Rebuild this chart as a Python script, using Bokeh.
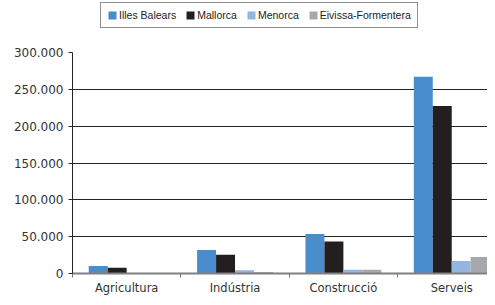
import numpy as np
from bokeh.plotting import figure
from bokeh.layouts import column
from bokeh.models import (Range1d, FixedTicker, Legend, LegendItem, ColumnDataSource)
from bokeh.embed import file_html
from bokeh.resources import INLINE

# ---- data ----
categories = ["Agricultura", "Indústria", "Construcció", "Serveis"]
series_names = ["Illes Balears", "Mallorca", "Menorca", "Eivissa-Formentera"]
illes_balears = [10300, 32000, 53500, 267000]
mallorca = [7800, 25500, 43500, 227500]
menorca = [600, 4300, 5000, 17000]
eivissa_formentera = [400, 2200, 5000, 22500]
series_values = [illes_balears, mallorca, menorca, eivissa_formentera]
colors = ["#4A8DCD", "#231F20", "#92B5E1", "#A7A8AB"]
y_ticks = [0, 50000, 100000, 150000, 200000, 250000, 300000]
y_tick_labels = ["0", "50.000", "100.000", "150.000", "200.000", "250.000", "300.000"]

n_cat = len(categories)
centers = np.arange(n_cat) + 0.5
bar_w = 0.175
offsets = (np.arange(len(series_names)) - (len(series_names) - 1) / 2) * bar_w

# ---- main chart ----
chart = figure(width=487, height=267, output_backend="svg", toolbar_location=None,
               x_range=Range1d(0, 3.83), y_range=Range1d(0, 300000),
               min_border_left=72, min_border_right=0, min_border_top=22,
               min_border_bottom=18)
chart.outline_line_color = None
chart.background_fill_color = "white"
chart.border_fill_color = "white"

# ---- legend strip (hidden copies of the bars; only the legend shows) ----
leg = figure(width=487, height=30, output_backend="svg", toolbar_location=None,
             x_range=Range1d(0, 3.83), y_range=Range1d(-2, -1),
             min_border_left=0, min_border_right=0, min_border_top=0,
             min_border_bottom=0)
leg.axis.visible = False
leg.grid.visible = False
leg.outline_line_color = None
leg.background_fill_color = "white"
leg.border_fill_color = "white"

items = []
for name, vals, col, off in zip(series_names, series_values, colors, offsets):
    src = ColumnDataSource(dict(x=centers + off, top=vals))
    chart.vbar(x="x", top="top", width=bar_w, bottom=0, source=src,
               fill_color=col, line_color=None)
    r = leg.vbar(x="x", top="top", width=bar_w, bottom=0, source=src,
                 fill_color=col, line_color=None)
    r.visible = False
    items.append(LegendItem(label=name, renderers=[r]))

# y axis
chart.yaxis.ticker = FixedTicker(ticks=y_ticks)
chart.yaxis.major_label_overrides = dict(zip(y_ticks, y_tick_labels))
chart.yaxis.major_tick_out = 4
chart.yaxis.major_tick_in = 0
chart.yaxis.minor_tick_line_color = None
chart.yaxis.axis_line_color = "#222222"
chart.yaxis.major_tick_line_color = "#222222"
chart.yaxis.major_label_standoff = 5
chart.yaxis.major_label_text_font = "DejaVu Sans"
chart.yaxis.major_label_text_font_size = "12px"
chart.yaxis.major_label_text_color = "#333333"

# x axis
chart.xaxis.ticker = FixedTicker(ticks=list(centers), minor_ticks=list(range(n_cat + 1)))
chart.xaxis.major_label_overrides = {float(c): lab for c, lab in zip(centers, categories)}
chart.xaxis.major_tick_line_color = None
chart.xaxis.major_tick_out = 0
chart.xaxis.major_tick_in = 0
chart.xaxis.minor_tick_out = 4
chart.xaxis.minor_tick_in = 0
chart.xaxis.minor_tick_line_color = "#777777"
chart.xaxis.axis_line_color = "#808080"
chart.xaxis.axis_line_width = 2
chart.xaxis.major_label_standoff = 3
chart.xaxis.major_label_text_font = "DejaVu Sans"
chart.xaxis.major_label_text_font_size = "11.5px"
chart.xaxis.major_label_text_color = "#333333"

# grid
chart.xgrid.grid_line_color = None
chart.ygrid.ticker = FixedTicker(ticks=y_ticks[1:])
chart.ygrid.grid_line_color = "#222222"
chart.ygrid.grid_line_width = 1

legend = Legend(items=items, orientation="horizontal", location=(28, 2),
                padding=6, spacing=9, label_standoff=2, margin=0,
                glyph_width=10, glyph_height=10, label_height=10,
                label_text_font="Liberation Sans", label_text_font_size="10.5px",
                label_text_color="#222222",
                border_line_color="#222222", border_line_width=1,
                background_fill_color="white", background_fill_alpha=1.0)
leg.add_layout(legend)

p = column(leg, chart, spacing=0)

open("out.html", "w").write(file_html(p, INLINE))
